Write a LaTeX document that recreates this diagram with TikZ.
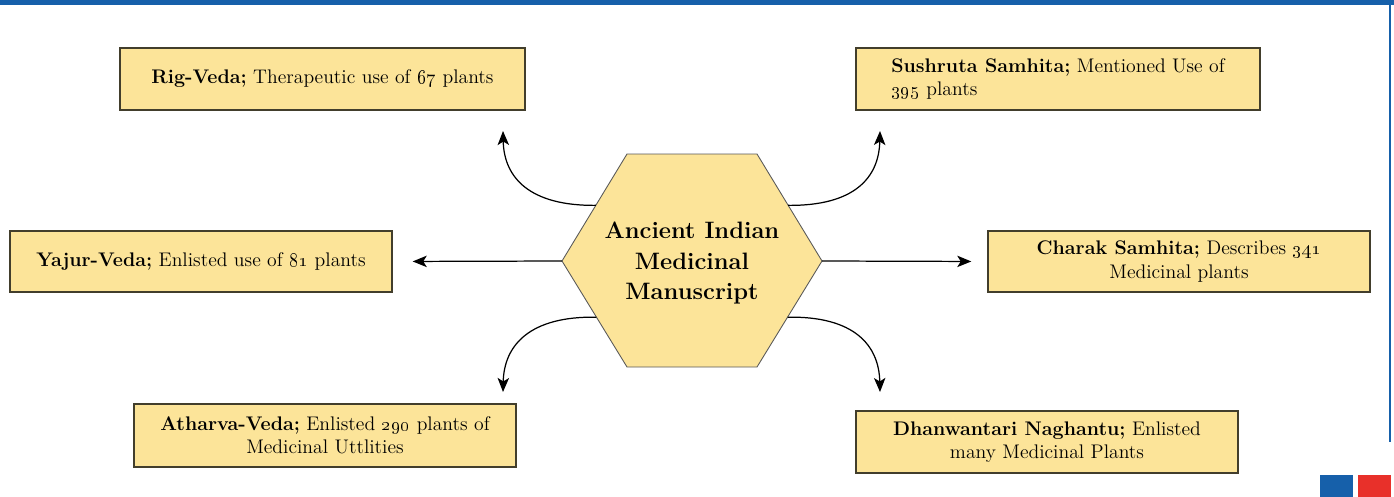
\documentclass[tikz,border=0pt]{standalone}
\usetikzlibrary{arrows.meta,calc}
\definecolor{vang}{RGB}{252,228,153}
\definecolor{xanh}{RGB}{22,96,170}
\definecolor{do}{RGB}{232,48,42}
\definecolor{vien}{RGB}{66,62,44}
\tikzset{
    hop/.style={draw=vien,line width=0.8pt,fill=vang,inner sep=2pt,font=\fontsize{11.2}{13.2}\selectfont},
    muiten/.style={-{Stealth[length=8pt,width=6.5pt,inset=2pt]},line width=0.7pt},
}
\begin{document}
\begin{tikzpicture}[x=0.02cm,y=-0.02cm]
    \useasboundingbox (0,0) rectangle (1394,497);
    % vien trang
    \fill[xanh] (0,0) rectangle (1394,5);
    \fill[xanh] (1389,5) rectangle (1391,442);
    \fill[xanh] (1320,475) rectangle (1353,497);
    \fill[do] (1358,475) rectangle (1391,497);
    % luc giac
    \path (562,261) coordinate (h1) (627,154) coordinate (h2) (757,154) coordinate (h3)
    (822,261) coordinate (h4) (757,367) coordinate (h5) (627,367) coordinate (h6);
    \draw[draw=gray!70!black,line width=0.5pt,fill=vang] (h1)--(h2)--(h3)--(h4)--(h5)--(h6)--cycle;
    \node[font=\fontsize{13.5}{17.2}\selectfont\bfseries,align=center] (hex) at (692,263) {Ancient Indian\\Medicinal\\Manuscript};
    % cac hop
    \path
    foreach \ten/\x/\y/\w/\h/\a/\t in {
        rig/322.5/79/405/62/center/{\textbf{Rig-Veda;} Therapeutic use of \oldstylenums{67} plants},
        sushruta/1058/79/404/62/left/{\textbf{Sushruta Samhita;} Mentioned Use of\\\oldstylenums{395} plants},
        yajur/201/261.5/382/61/center/{\textbf{Yajur-Veda;} Enlisted use of \oldstylenums{81} plants},
        charak/1179/261.5/382/61/center/{\textbf{Charak Samhita;} Describes \oldstylenums{341}\\Medicinal plants},
        atharva/325/435.5/382/63/center/{\textbf{Atharva-Veda;} Enlisted \oldstylenums{290} plants of\\Medicinal Uttlities},
        dhan/1047/442/382/62/center/{\textbf{Dhanwantari Naghantu;} Enlisted\\many Medicinal Plants}}
    {(\x,\y) node[hop,align=\a,minimum width=\w*0.02cm,minimum height=\h*0.02cm] (\ten) {\t}};
    % dau mui ten
    \path (503,131) coordinate (t1) (880,131) coordinate (t2) (503,392) coordinate (t3) (880,392) coordinate (t4);
    \path ($(h1)!.52!(h2)$) coordinate (a1) ($(h4)!.52!(h3)$) coordinate (a2)
    ($(h1)!.53!(h6)$) coordinate (a3) ($(h4)!.53!(h5)$) coordinate (a4);
    \draw[muiten,shorten >=0.4cm] (h1)--(yajur.east);
    \draw[muiten,shorten >=0.32cm] (h4)--(charak.west);
    \draw[muiten] (a1) .. controls (530,206) and (504,178) .. (t1);
    \draw[muiten] (a2) .. controls (854,206) and (879,178) .. (t2);
    \draw[muiten] (a3) .. controls (530,316) and (504,345) .. (t3);
    \draw[muiten] (a4) .. controls (854,316) and (879,345) .. (t4);
\end{tikzpicture}
\end{document}
